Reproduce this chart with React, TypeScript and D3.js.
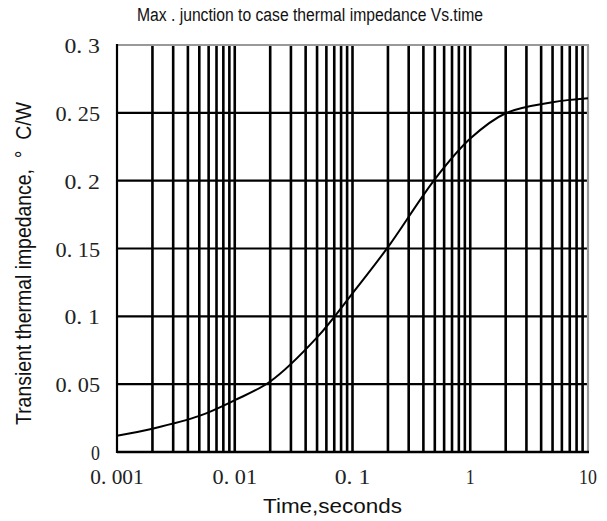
import React from "react";
import * as d3 from "d3";

const times = [0.001, 0.002, 0.005, 0.01, 0.02, 0.05, 0.1, 0.2, 0.5, 1, 2, 5, 10];
const impedance = [0.012, 0.0172, 0.0266, 0.0382, 0.052, 0.0845, 0.117, 0.151, 0.201, 0.231, 0.2497, 0.2578, 0.2607];
const xTicks = [0.001, 0.01, 0.1, 1, 10];
const xTickLabels = ["0. 001", "0. 01", "0. 1", "1", "10"];
const yTicks = [0, 0.05, 0.1, 0.15, 0.2, 0.25, 0.3];
const yTickLabels = ["0", "0. 05", "0. 1", "0. 15", "0. 2", "0. 25", "0. 3"];
const decades = [0.001, 0.01, 0.1, 1];
const multipliers = [2, 3, 4, 5, 6, 7, 8, 9, 10];

const W = 607, H = 521;
const L = 117, R = 588, T = 45, B = 452;

export default function App() {
  const x = d3.scaleLog().domain([0.001, 10]).range([L, R]);
  const y = d3.scaleLinear().domain([0, 0.3]).range([B, T]);
  const pts = times.map((t, i) => [t, impedance[i]] as [number, number]);
  const line = d3
    .line<[number, number]>()
    .x((d) => x(d[0]))
    .y((d) => y(d[1]))
    .curve(d3.curveCatmullRom.alpha(0.5));

  const vlines: number[] = [];
  decades.forEach((d) => multipliers.forEach((m) => {
    const v = d * m;
    if (v < 10 - 1e-9) vlines.push(v);
  }));

  return (
    <svg width={W} height={H} style={{ position: "absolute", left: 0, top: 0, background: "#fff" }}>
      <rect x={0} y={0} width={W} height={H} fill="#fff" />
      {vlines.map((v, i) => (
        <line key={"v" + i} x1={x(v)} x2={x(v)} y1={T} y2={B} stroke="#000" strokeWidth={2.6} />
      ))}
      {yTicks.slice(1, -1).map((v, i) => (
        <line key={"h" + i} x1={L} x2={R} y1={y(v)} y2={y(v)} stroke="#000" strokeWidth={2.2} />
      ))}
      <line x1={L} x2={R + 1} y1={T} y2={T} stroke="#999" strokeWidth={2.2} />
      <line x1={R} x2={R} y1={T} y2={B} stroke="#999" strokeWidth={2.2} />
      <line x1={L} x2={L} y1={T - 1} y2={B + 1} stroke="#000" strokeWidth={2.2} />
      <line x1={L} x2={R + 1} y1={B} y2={B} stroke="#000" strokeWidth={2.4} />
      <path d={line(pts) || ""} fill="none" stroke="#000" strokeWidth={2} />
      {xTicks.map((v, i) => (
        <text key={"xt" + i} x={x(v)} y={484} textAnchor="middle" fontFamily="Liberation Serif" fontSize={21}
          textLength={xTickLabels[i].length * 8.9} lengthAdjust="spacingAndGlyphs" fill="#222" style={{ whiteSpace: "pre" }}>
          {xTickLabels[i]}
        </text>
      ))}
      {yTicks.map((v, i) => (
        <text key={"yt" + i} x={100} y={y(v) + 8} textAnchor="end" fontFamily="Liberation Serif" fontSize={21}
          textLength={yTickLabels[i].length * 8.9} lengthAdjust="spacingAndGlyphs" fill="#222" style={{ whiteSpace: "pre" }}>
          {yTickLabels[i]}
        </text>
      ))}
      <text x={137} y={21} fontFamily="Liberation Sans" fontSize={18} textLength={346} lengthAdjust="spacingAndGlyphs" fill="#111">
        Max . junction to case thermal impedance Vs.time
      </text>
      <text x={263} y={513} fontFamily="Liberation Sans" fontSize={20} textLength={139} lengthAdjust="spacingAndGlyphs" fill="#111">
        Time,seconds
      </text>
      <text transform="translate(31,425) rotate(-90)" x={0} y={0} fontFamily="Liberation Sans" fontSize={22}
        textLength={323} lengthAdjust="spacingAndGlyphs" fill="#111" style={{ whiteSpace: "pre" }}>
        Transient thermal impedance,  °  C/W
      </text>
    </svg>
  );
}
